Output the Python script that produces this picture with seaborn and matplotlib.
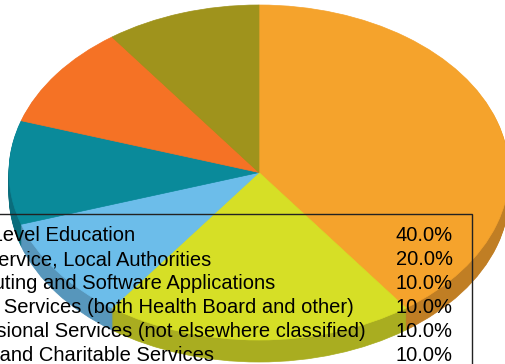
import numpy as np
import matplotlib
matplotlib.use('Agg')
import matplotlib.pyplot as plt
import seaborn as sns
from matplotlib.patches import Rectangle

## dados do grafico
valores = [40, 20, 10, 10, 10, 10]
rotulos = ['Third Level Education',
           'Civil Service, Local Authorities',
           'Computing and Software Applications',
           'Health Services (both Health Board and other)',
           'Professional Services (not elsewhere classified)',
           'Social and Charitable Services']
percentuais = ['40.0%', '20.0%', '10.0%', '10.0%', '10.0%', '10.0%']
cores_topo = ['#f5a32c', '#d6df26', '#6cbdea', '#0a8a9a', '#f57225', '#9f931c']
cores_lado = ['#c07e24', '#a9ad20', '#5796bb', '#0a6d7c', '#c05a20', '#7d7418']

sns.set_style('white')
plt.rcParams['font.family'] = ['Liberation Sans', 'DejaVu Sans']

L, H = 506, 364
cx, cy, rx, ry = 259, 172.5, 250, 167.5
prof = 22

fig = plt.figure(figsize=(L / 100, H / 100), dpi=100)
ax = fig.add_axes([(cx - rx) / L, 1 - (cy + ry) / H, 2 * rx / L, 2 * ry / H])

def desenha_pizza(cores, d=0):
    fatias, _ = ax.pie(valores, colors=sns.color_palette(cores), startangle=90, counterclock=False,
                       center=(0, -d / ry), radius=1)
    for f in fatias:
        f.set_edgecolor(f.get_facecolor())
        f.set_linewidth(0.5)

## lateral: varias pizzas deslocadas para baixo
for d in np.arange(prof, 0, -1):
    desenha_pizza(cores_lado, d)
desenha_pizza(cores_topo)
ax.set_aspect('auto')
ax.set_xlim(-1, 1)
ax.set_ylim(-1, 1)

## legenda em forma de tabela
leg = fig.add_axes([0, 0, 1, 1])
leg.set_xlim(0, L)
leg.set_ylim(H, 0)
leg.axis('off')
leg.patch.set_alpha(0)
leg.add_patch(Rectangle((-20, 214), 492, 200, fill=False, edgecolor='#222222', linewidth=1))
## fim de cada rotulo, o inicio fica cortado na borda
fim_rotulo = [135, 211, 275, 354, 366, 214]
for i, (r, p) in enumerate(zip(rotulos, percentuais)):
    y = 241.2 + i * 24
    leg.text(fim_rotulo[i], y, r, fontsize=14.5, va='baseline', ha='right', color='black')
    leg.text(453, y, p, fontsize=14.5, va='baseline', ha='right', color='black')

fig.savefig('out.png', dpi=100)
